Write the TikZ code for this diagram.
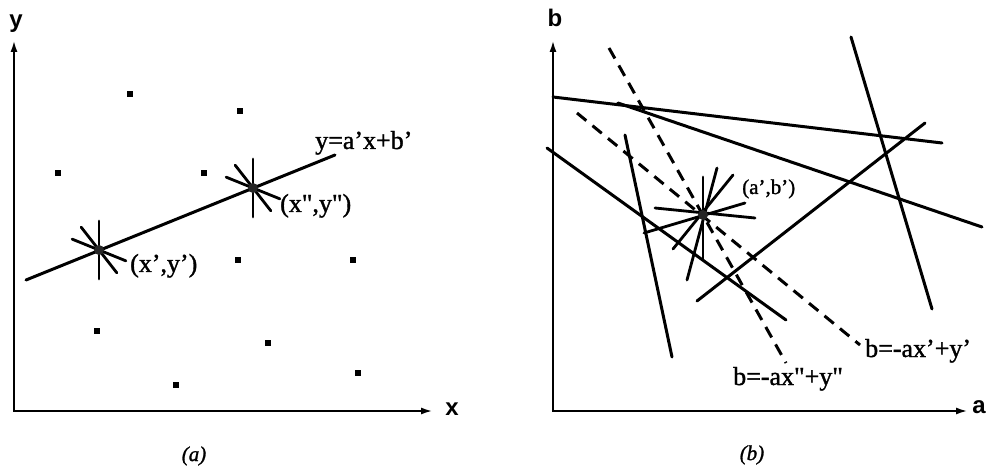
\documentclass[tikz,border=0pt]{standalone}
\usepackage{fontspec}
\setmainfont{Liberation Serif}
\setsansfont{Liberation Sans}
\newfontfamily\heavyserif{Liberation Serif}[FakeBold=1.3, ItalicFeatures={FakeBold=1.3}]
\usetikzlibrary{arrows.meta,calc}
\begin{document}
\begin{tikzpicture}[x=1pt,y=-1pt,
  axisline/.style={line width=2.3pt, {Latex[length=12pt,width=7pt]}-{Latex[length=12pt,width=7pt]}},
  ln/.style={line width=3pt, line cap=round},
  dln/.style={line width=3pt, dash pattern=on 12pt off 8pt},
  spoke/.style={line width=2.8pt, line cap=round},
  dotpt/.style={rectangle, fill=black, draw=none, minimum size=5.5pt, inner sep=0pt},
  lbl/.style={font=\heavyserif\fontsize{26}{28}\selectfont, inner sep=0pt},
  lblsmall/.style={font=\heavyserif\fontsize{21}{23}\selectfont, inner sep=0pt},
  axl/.style={font=\sffamily\bfseries\fontsize{24}{26}\selectfont, inner sep=0pt},
  captxt/.style={font=\heavyserif\itshape\fontsize{21}{23}\selectfont, inner sep=0pt},
  blob/.style={circle, fill=black!85, draw=none, minimum size=10pt, inner sep=0pt}
]
\useasboundingbox (0,0) rectangle (987,470);

% ---------------- panel (a) ----------------
\coordinate (oA) at (14,411);
\coordinate (yA) at (14,40);
\coordinate (xA) at (433,411);
\draw[axisline] (yA) -- (oA) -- (xA);
\node[axl, anchor=base] (ylab) at (16,28) {y};
\node[axl, anchor=base] (xlab) at (452,415) {x};

\foreach \p [count=\i] in {(130,94),(240,111),(58,173),(204,173),(238,260),(353,260),(97,331),(268,343),(176,385),(358,373)}
  \node[dotpt] (d\i) at \p {};

\coordinate (fa) at (26,280);
\coordinate (fb) at (335,155);
\draw[ln] (fa) -- (fb);

\coordinate (c1) at (99,250);
\coordinate (c2) at (253,188);
\foreach \s in {c1,c2}
  \foreach \a in {22,52,90}
    \draw[spoke] ($(\s)+(\a:29)$) -- ($(\s)+(\a+180:29)$);
\node[blob] (s1) at (c1) {};
\node[blob] (s2) at (c2) {};

\node[lbl, anchor=base west] (lfit) at (315,149) {y=a’x+b’};
\node[lbl, anchor=base west] (lp2) at (280,212) {(x",y")};
\node[lbl, anchor=base west] (lp1) at (130,272) {(x’,y’)};
\node[captxt] (capa) at (194,456) {(a)};

% ---------------- panel (b) ----------------
\coordinate (oB) at (553,411);
\coordinate (bB) at (553,40);
\coordinate (aB) at (968,411);
\draw[axisline] (bB) -- (oB) -- (aB);
\node[axl, anchor=base] (blab) at (555,27) {b};
\node[axl, anchor=base] (alab) at (979,413) {a};

\coordinate (l1a) at (553,97);  \coordinate (l1b) at (942,143);
\coordinate (l2a) at (618,103); \coordinate (l2b) at (982,227);
\coordinate (l3a) at (547,148); \coordinate (l3b) at (786,320);
\coordinate (l4a) at (625,135); \coordinate (l4b) at (672,357);
\coordinate (l5a) at (697,301); \coordinate (l5b) at (925,123);
\coordinate (l6a) at (851,37);  \coordinate (l6b) at (932,309);
\draw[ln] (l1a) -- (l1b);
\draw[ln] (l2a) -- (l2b);
\draw[ln] (l3a) -- (l3b);
\draw[ln] (l4a) -- (l4b);
\draw[ln] (l5a) -- (l5b);
\draw[ln] (l6a) -- (l6b);

\coordinate (d7a) at (609,48);  \coordinate (d7b) at (786,363);
\coordinate (d8a) at (577,113); \coordinate (d8b) at (860,345);
\draw[dln] (d7a) -- (d7b);
\draw[dln] (d8a) -- (d8b);

\coordinate (cb) at (703,215);
\coordinate (sA1) at (655,208); \coordinate (sA2) at (755,218);
\coordinate (sB1) at (644,233); \coordinate (sB2) at (745,203);
\coordinate (sC1) at (703,177); \coordinate (sC2) at (703,260);
\coordinate (sD1) at (717,168); \coordinate (sD2) at (687,280);
\coordinate (sE1) at (733,175); \coordinate (sE2) at (673,249);
\foreach \k in {A,B,C,D,E}
  \draw[spoke] (s\k1) -- (s\k2);
\node[blob] (sb) at (cb) {};

\node[lblsmall, anchor=base west] (lab) at (742,194) {(a’,b’)};
\node[lbl, anchor=base west] (ld8) at (865,357) {b=-ax’+y’};
\node[lbl, anchor=base west] (ld7) at (733,385) {b=-ax"+y"};
\node[captxt] (capb) at (752,455) {(b)};
\end{tikzpicture}
\end{document}
